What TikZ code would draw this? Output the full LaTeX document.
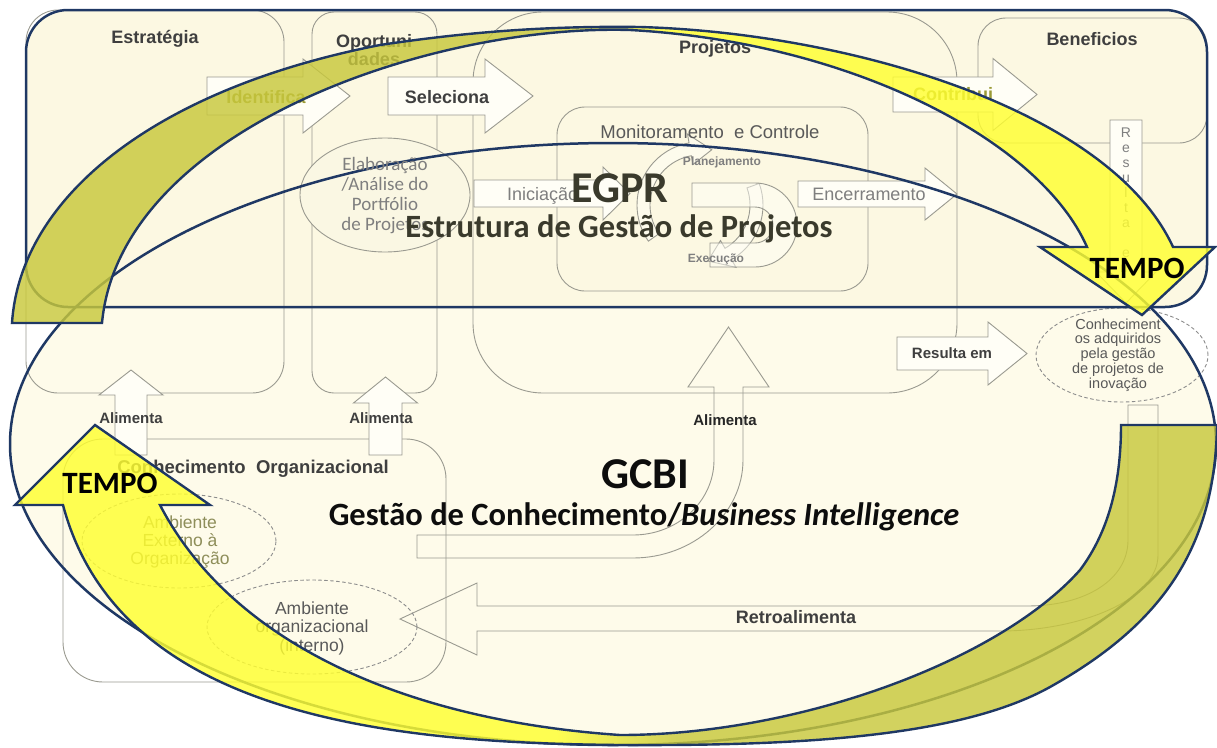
\documentclass[tikz,border=0pt]{standalone}
\usepackage{fontspec}
\setmainfont{Liberation Sans}
\newfontfamily\calibrif{Carlito}
\usetikzlibrary{shapes.geometric}

\definecolor{navy}{HTML}{1F3864}
\definecolor{creamA}{HTML}{FCF8E2}
\definecolor{creamB}{HTML}{FEFBEA}
\definecolor{elabfill}{HTML}{FAF7E3}
\definecolor{arrowfill}{HTML}{FFFEF6}
\definecolor{linegray}{HTML}{9A9A90}
\definecolor{dashgray}{HTML}{8C8C8C}
\definecolor{txtdark}{HTML}{3F3F3F}
\definecolor{txtgray}{HTML}{7F7F7F}
\definecolor{txtmid}{HTML}{595959}
\definecolor{txtolive}{HTML}{8E8E5A}
\definecolor{labolive}{HTML}{9A9A35}
\definecolor{olivey}{HTML}{C8C83C}
\definecolor{brighty}{HTML}{FFFF30}
\definecolor{titledark}{HTML}{3A3A2C}

\pgfdeclarehorizontalshading{topband}{100bp}{color(0bp)=(olivey); color(47.5bp)=(olivey); color(52bp)=(brighty); color(100bp)=(brighty)}
\pgfdeclarehorizontalshading{lowband}{100bp}{color(0bp)=(brighty); color(47.5bp)=(brighty); color(52.5bp)=(olivey); color(100bp)=(olivey)}

% block arrows: shaft start, head base, tip, centre, half shaft, half head
\newcommand\hblock[6]{%
  \draw[blk] (#1,#4-#5) -- (#2,#4-#5) -- (#2,#4-#6) -- (#3,#4)
    -- (#2,#4+#6) -- (#2,#4+#5) -- (#1,#4+#5) -- cycle;}
\newcommand\vblock[6]{%
  \draw[blk] (#1-#5,#2) -- (#1-#5,#3) -- (#1-#6,#3) -- (#1,#4)
    -- (#1+#6,#3) -- (#1+#5,#3) -- (#1+#5,#2) -- cycle;}

\begin{document}
\begin{tikzpicture}[x=1pt, y=-1pt,
    colbox/.style={draw=linegray, line width=0.9pt},
    blk/.style={draw=linegray, line width=0.9pt, fill=arrowfill},
    cycarrow/.style={draw=linegray, line width=0.9pt, fill=arrowfill, fill opacity=0.5},
    dashell/.style={draw=dashgray, line width=0.9pt, dash pattern=on 3.5pt off 2.5pt},
    navyline/.style={draw=navy, line width=2.5pt},
    band/.style={draw=navy, line width=2.4pt, fill opacity=0.82},
    colname/.style={anchor=base, inner sep=0pt, text=txtdark, font=\bfseries\fontsize{18}{18}\selectfont},
    verblbl/.style={anchor=base, inner sep=0pt, text=txtdark, font=\bfseries\fontsize{15}{17}\selectfont},
    graylbl/.style={anchor=base, inner sep=0pt, text=txtgray, font=\fontsize{18}{20}\selectfont},
    smalllbl/.style={anchor=base, inner sep=0pt, text=txtgray, font=\bfseries\fontsize{12}{14}\selectfont},
    ovaltxt/.style={inner sep=0pt, align=center, text=txtmid},
    bigtitle/.style={anchor=base, inner sep=0pt, font=\calibrif\bfseries\fontsize{44}{48}\selectfont},
    subtitle/.style={anchor=base, inner sep=0pt, font=\calibrif\bfseries\fontsize{32.5}{36}\selectfont},
    tempolbl/.style={anchor=base, inner sep=0pt, text=black, font=\calibrif\bfseries\fontsize{31}{34}\selectfont}]
\useasboundingbox (0,0) rectangle (1217,747);

% background areas
\fill[creamB] (613,444) ellipse [x radius=603pt, y radius=301pt];
\fill[creamA, rounded corners=42pt] (26,10) rectangle (1207,307);

% columns
\draw[colbox, rounded corners=32pt] (26,10) rectangle (284,393);
\draw[colbox, rounded corners=22pt] (312,12) rectangle (437,393);
\draw[colbox, rounded corners=70pt] (473,12) rectangle (957,393);
\draw[colbox, rounded corners=28pt] (978,18) rectangle (1207,143);
\draw[colbox, rounded corners=40pt] (63,439) rectangle (446,682);

% top arrows
\hblock{207}{303}{350}{96}{19}{37}
\hblock{388}{485}{533}{96}{19}{37}
\hblock{893}{993}{1037}{94.5}{17.5}{36}

% portfolio
\draw[colbox, fill=elabfill] (385,195) ellipse [x radius=85pt, y radius=57pt];

% project cycle
\draw[colbox, rounded corners=28pt] (557,107) rectangle (868,291);
\hblock{474}{603}{630}{193.5}{13.5}{26.5}
\hblock{798}{925}{957}{194}{13}{26}
\begin{scope}[shift={(700,205)}, yscale=-1]
  \draw[cycarrow] (215:63) arc[start angle=215, end angle=100, radius=63] -- (100:72)
    -- (78:56.5) -- (100:41) -- (100:50) arc[start angle=100, end angle=215, radius=50] -- cycle;
  \draw[cycarrow] (20:63) arc[start angle=20, end angle=-60, radius=63] -- (-60:72)
    -- (-82:56.5) -- (-60:41) -- (-60:50) arc[start angle=-60, end angle=20, radius=50] -- cycle;
  \draw[cycarrow] (-8,22) -- (55,22) arc[start angle=90, end angle=-90, radius=42] -- (10,-62)
    -- (10,-38) -- (55,-38) arc[start angle=-90, end angle=90, radius=18] -- (-8,-2) -- cycle;
\end{scope}

% results
\vblock{1126}{120}{272}{303}{16}{30}
\hblock{897}{988}{1027}{353.5}{16.5}{31.5}
\draw[dashell] (1122,355) ellipse [x radius=86pt, y radius=47pt];

% feeding arrows
\vblock{131}{455}{395}{370}{16}{32}
\vblock{385.5}{455}{403}{377}{16.5}{32}
\draw[colbox] (417,535) -- (633,535) .. controls (678,535) and (714,501) .. (714,460)
  -- (714,387) -- (688,387) -- (728.5,327) -- (769,387) -- (743,387) -- (743,460)
  .. controls (743,514) and (693,558) .. (633,558) -- (417,558) -- cycle;
\draw[colbox] (1128,405) -- (1158,405) -- (1158,555) .. controls (1158,600) and (1080,631) .. (1000,631)
  -- (477,631) -- (477,655) -- (400,619) -- (477,583) -- (477,606) -- (1027,606)
  .. controls (1085,606) and (1128,580) .. (1128,540) -- cycle;
\draw[dashell] (179,541) ellipse [x radius=97pt, y radius=47pt];
\draw[dashell] (312,627) ellipse [x radius=105pt, y radius=47pt];

% outlines
\draw[navyline] (613,444) ellipse [x radius=603pt, y radius=301pt];
\draw[navyline, rounded corners=42pt] (26,10) rectangle (1207,307);

% labels
\node[colname] (estr) at (155,43) {Estratégia};
\node[colname, anchor=center, align=center] (opor) at (374,50) {Oportuni\\dades};
\node[colname] (proj) at (715,53) {Projetos};
\node[colname] (bene) at (1092,45) {Beneficios};
\node[colname, text=labolive] (ident) at (266,103) {Identifica};
\node[colname] (sele) at (447,103) {Seleciona};
\node[colname, text=labolive] (contr) at (953,100) {Contribui};
\node[ovaltxt, text=txtgray, font=\calibrif\fontsize{19}{20}\selectfont] (elab) at (385,196)
  {Elaboração\\/Análise do\\Portfólio\\de Projetos};
\node[graylbl, text=txtmid, font=\fontsize{18.5}{20}\selectfont] (moni) at (710,138) {Monitoramento~ e Controle};
\node[graylbl, anchor=base west] (inic) at (507,200) {Iniciação};
\node[graylbl] (ence) at (869,200) {Encerramento};
\node[smalllbl] (plan) at (722,165) {Planejamento};
\node[smalllbl] (exec) at (716,262) {Execução};
\node[ovaltxt, text=txtgray, font=\fontsize{14}{15}\selectfont] (resv) at (1126,200.5)
  {R\\e\\s\\u\\l\\t\\a\\[15pt]e\\m};
\node[verblbl] (resem) at (952,358) {Resulta em};
\node[ovaltxt, font=\fontsize{14.5}{14.8}\selectfont] (conh) at (1118,355)
  {Conheciment\\os adquiridos\\pela gestão\\de projetos de\\inovação};
\node[verblbl, font=\bfseries\fontsize{18}{20}\selectfont] (retro) at (796,623) {Retroalimenta};
\node[verblbl] (alima) at (131,423) {Alimenta};
\node[verblbl] (alimb) at (381,423) {Alimenta};
\node[verblbl, text=black!85] (alimc) at (725,425) {Alimenta};
\node[colname, font=\bfseries\fontsize{18.5}{20}\selectfont] (conorg) at (253,473) {Conhecimento~ Organizacional};
\node[ovaltxt, text=txtolive, font=\fontsize{17.5}{18}\selectfont] (ambext) at (180,542.5)
  {Ambiente\\Externo à\\Organização};
\node[ovaltxt, font=\fontsize{17.5}{18.5}\selectfont] (ambint) at (312,628)
  {Ambiente\\organizacional\\(interno)};

% titles
\node[bigtitle, text=titledark] (egpr) at (620,202) {EGPR};
\node[subtitle, text=titledark] (egprsub) at (619,237) {Estrutura de Gestão de Projetos};
\node[bigtitle, text=black!95] (gcbi) at (645,488) {GCBI};
\node[subtitle, text=black!95] (gcbisub) at (644,525) {Gestão de Conhecimento/\textit{Business Intelligence}};

% time arrows
\shadedraw[band, shading=topband]
  (12,323) .. controls (20,200) and (150,90) .. (380,45)
  .. controls (480,30) and (560,26) .. (640,27)
  .. controls (850,33) and (1110,110) .. (1173,247)
  -- (1215,247) -- (1142,315) -- (1040,247) -- (1087,247)
  .. controls (1040,140) and (850,42) .. (630,30)
  .. controls (430,24) and (120,130) .. (102,323) -- cycle;
\shadedraw[band, shading=lowband]
  (1121,425) -- (1217,425)
  .. controls (1215,540) and (1170,620) .. (1050,687)
  .. controls (960,737) and (800,746) .. (620,745)
  .. controls (400,743) and (120,720) .. (63,505)
  -- (15,505) -- (95,425) -- (210,505) -- (160,505)
  .. controls (230,640) and (400,720) .. (620,735)
  .. controls (800,735) and (1000,660) .. (1080,570)
  .. controls (1110,530) and (1121,480) .. (1121,425) -- cycle;
\node[tempolbl] (tempoa) at (1137,278) {TEMPO};
\node[tempolbl] (tempob) at (110,493) {TEMPO};
\end{tikzpicture}
\end{document}
